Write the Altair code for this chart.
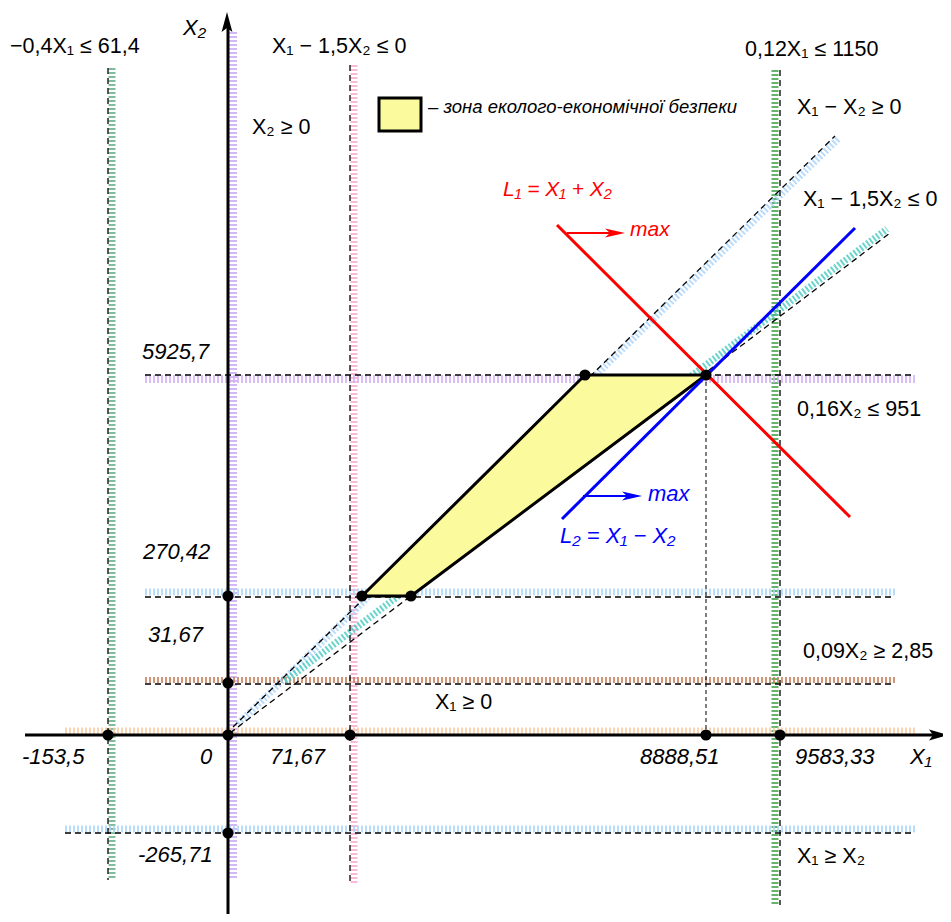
import altair as alt
import pandas as pd

# ---------------- data: schematic coordinates ----------------
# hatched constraint bands (start/end points, colour, band width)
hatch_x1 = [112, 233, 354, 775, 145, 145, 145, 65, 65, 238, 285]
hatch_y1 = [68, 32, 65, 70, 379, 592, 680, 731, 829, 724, 681]
hatch_x2 = [112, 233, 354, 775, 915, 895, 895, 915, 915, 838, 887]
hatch_y2 = [880, 880, 885, 905, 379, 592, 680, 731, 829, 139, 229]
hatch_col = ["#5fae7f", "#c9a6f2", "#f7a8cf", "#3f9f49", "#d2aef5", "#a9d3fa",
             "#c47a55", "#f9c9a0", "#a9d3fa", "#a9d3fa", "#45c9c0"]
hatch_w = [7, 8, 7, 7, 8, 7, 6, 7, 7, 7, 7]

# dashed boundary lines of the constraints
dash_x1 = [108, 350, 780, 145, 145, 145, 65, 233, 230]
dash_y1 = [68, 65, 70, 375, 597, 684, 833, 727, 733]
dash_x2 = [108, 350, 780, 915, 895, 895, 915, 835, 890]
dash_y2 = [880, 885, 905, 375, 597, 684, 833, 136, 233]

# thin projection line of the optimum
proj_x1, proj_y1, proj_x2, proj_y2 = [706], [375], [706], [735]

# solid lines: axes, objective functions, arrow shafts
solid_x1 = [25, 228, 557, 562, 567, 583]
solid_y1 = [735, 922, 225, 519, 233, 496]
solid_x2 = [935, 228, 850, 855, 620, 637]
solid_y2 = [735, 25, 517, 228, 233, 496]
solid_col = ["black", "black", "#ff0000", "#0000ff", "#ff0000", "#0000ff"]
solid_w = [3, 3, 3, 3, 2, 2]

# zone of ecological-economic safety (trapezoid: bottom and top edges)
zone_y = [596, 375]
zone_left = [362, 585]
zone_right = [411, 706]

# marked points
pt_x = [362, 411, 585, 706, 228, 228, 228, 108, 350, 706, 780, 228]
pt_y = [596, 596, 375, 375, 596, 683, 735, 735, 735, 735, 735, 833]

# legend box
leg_x, leg_x2, leg_y, leg_y2 = [379], [421], [98], [131]

# texts
formula_text = ["−0,4X₁ ≤ 61,4", "X₁ − 1,5X₂ ≤ 0", "0,12X₁ ≤ 1150", "X₂ ≥ 0",
                "X₁ − X₂ ≥ 0", "X₁ − 1,5X₂ ≤ 0", "0,16X₂ ≤ 951", "0,09X₂ ≥ 2,85",
                "X₁ ≥ 0", "X₁ ≥ X₂"]
formula_x = [10, 272, 745, 252, 797, 803, 797, 803, 435, 797]
formula_y = [47, 47, 50, 128, 108, 200, 410, 652, 703, 857]

num_text = ["5925,7", "270,42", "31,67", "-153,5", "0", "71,67", "8888,51", "9583,33", "-265,71",
            "X₂", "X₁"]
num_x = [142, 143, 148, 22, 200, 270, 640, 795, 138, 183, 910]
num_y = [352, 552, 635, 757, 757, 757, 757, 757, 855, 28, 757]

red_text = ["L₁ = X₁ + X₂", "max"]
red_x = [503, 630]
red_y = [190, 230]
blue_text = ["L₂ = X₁ − X₂", "max"]
blue_x = [560, 648]
blue_y = [536, 494]

legend_text = ["– зона еколого-економічної безпеки"]
legend_tx, legend_ty = [428], [107]

# arrow heads
axis_arrow_x = [227, 949]
axis_arrow_dir = ["up", "right"]
axis_arrow_y = [12, 735]
obj_arrow_x = [625, 642]
obj_arrow_y = [233, 496]
obj_arrow_col = ["#ff0000", "#0000ff"]

# ---------------- chart ----------------
W, H = 935, 906
xs = alt.Scale(domain=[8, 8 + W], nice=False, zero=False)
ys = alt.Scale(domain=[8 + H, 8], nice=False, zero=False)
FONT = "Liberation Sans"


def seg_layer(x1, y1, x2, y2, col, w, dash=None, opacity=1.0):
    df = pd.DataFrame({"x": x1, "y": y1, "x2": x2, "y2": y2, "c": col, "w": w})
    kw = {"strokeCap": "butt", "opacity": opacity}
    if dash is not None:
        kw["strokeDash"] = dash
    return alt.Chart(df).mark_rule(**kw).encode(
        x=alt.X("x:Q", scale=xs, axis=None),
        y=alt.Y("y:Q", scale=ys, axis=None),
        x2="x2:Q", y2="y2:Q",
        color=alt.Color("c:N", scale=None),
        strokeWidth=alt.StrokeWidth("w:Q", scale=None),
    )


def text_layer(t, x, y, size, color, style):
    df = pd.DataFrame({"t": t, "x": x, "y": y})
    return alt.Chart(df).mark_text(
        align="left", baseline="middle", fontSize=size, font=FONT,
        fontStyle=style, color=color,
    ).encode(
        x=alt.X("x:Q", scale=xs, axis=None),
        y=alt.Y("y:Q", scale=ys, axis=None),
        text="t:N",
    )


hatch = seg_layer(hatch_x1, hatch_y1, hatch_x2, hatch_y2, hatch_col, hatch_w,
                  dash=[2, 2], opacity=0.8)
dashed = seg_layer(dash_x1, dash_y1, dash_x2, dash_y2, ["black"] * len(dash_x1),
                   [1.3] * len(dash_x1), dash=[6, 4])
proj = seg_layer(proj_x1, proj_y1, proj_x2, proj_y2, ["black"], [1], dash=[4, 3])
solid = seg_layer(solid_x1, solid_y1, solid_x2, solid_y2, solid_col, solid_w)

zone_df = pd.DataFrame({"y": zone_y, "x": zone_left, "x2": zone_right})
zone = alt.Chart(zone_df).mark_area(
    orient="horizontal", fill="#fbfa9c", stroke="black", strokeWidth=3,
    strokeJoin="round", opacity=1,
).encode(
    y=alt.Y("y:Q", scale=ys, axis=None),
    x=alt.X("x:Q", scale=xs, axis=None),
    x2="x2:Q",
)

legend_box = alt.Chart(pd.DataFrame({"x": leg_x, "x2": leg_x2, "y": leg_y, "y2": leg_y2})).mark_rect(
    fill="#fbfa9c", stroke="black", strokeWidth=3,
).encode(
    x=alt.X("x:Q", scale=xs, axis=None), x2="x2:Q",
    y=alt.Y("y:Q", scale=ys, axis=None), y2="y2:Q",
)

points = alt.Chart(pd.DataFrame({"x": pt_x, "y": pt_y})).mark_circle(
    size=125, color="black", opacity=1,
).encode(
    x=alt.X("x:Q", scale=xs, axis=None),
    y=alt.Y("y:Q", scale=ys, axis=None),
)

up_path = "M0,0 L0.27,1 L0,0.8 L-0.27,1 Z"
right_path = "M0,0 L-1,-0.27 L-0.8,0 L-1,0.27 Z"
ax_df = pd.DataFrame({"x": axis_arrow_x, "y": axis_arrow_y, "d": axis_arrow_dir})
arrow_up = alt.Chart(ax_df[ax_df.d == "up"]).mark_point(
    shape=up_path, size=1600, filled=True, color="black", opacity=1, strokeWidth=0,
).encode(x=alt.X("x:Q", scale=xs, axis=None), y=alt.Y("y:Q", scale=ys, axis=None))
arrow_right = alt.Chart(ax_df[ax_df.d == "right"]).mark_point(
    shape=right_path, size=1600, filled=True, color="black", opacity=1, strokeWidth=0,
).encode(x=alt.X("x:Q", scale=xs, axis=None), y=alt.Y("y:Q", scale=ys, axis=None))

obj_path = "M0,0 L-1,-0.22 L-0.75,0 L-1,0.22 Z"
obj_arrows = alt.Chart(pd.DataFrame({"x": obj_arrow_x, "y": obj_arrow_y, "c": obj_arrow_col})).mark_point(
    shape=obj_path, size=1600, filled=True, opacity=1, strokeWidth=0,
).encode(
    x=alt.X("x:Q", scale=xs, axis=None), y=alt.Y("y:Q", scale=ys, axis=None),
    color=alt.Color("c:N", scale=None),
)

formulas = text_layer(formula_text, formula_x, formula_y, 21.5, "black", "normal")
numbers = text_layer(num_text, num_x, num_y, 22, "black", "italic")
red_t = text_layer(red_text, red_x, red_y, 21, "#ff0000", "italic")
blue_t = text_layer(blue_text, blue_x, blue_y, 22, "#0000ff", "italic")
legend_t = text_layer(legend_text, legend_tx, legend_ty, 18.5, "black", "italic")

chart = alt.layer(
    hatch, dashed, proj, zone, solid, arrow_up, arrow_right, obj_arrows, points,
    legend_box, formulas, numbers, red_t, blue_t, legend_t,
).properties(
    width=W, height=H, padding=0, autosize="none",
).configure_view(stroke=None)

chart.save("out.html", embed_options={"renderer": "svg", "actions": False})
